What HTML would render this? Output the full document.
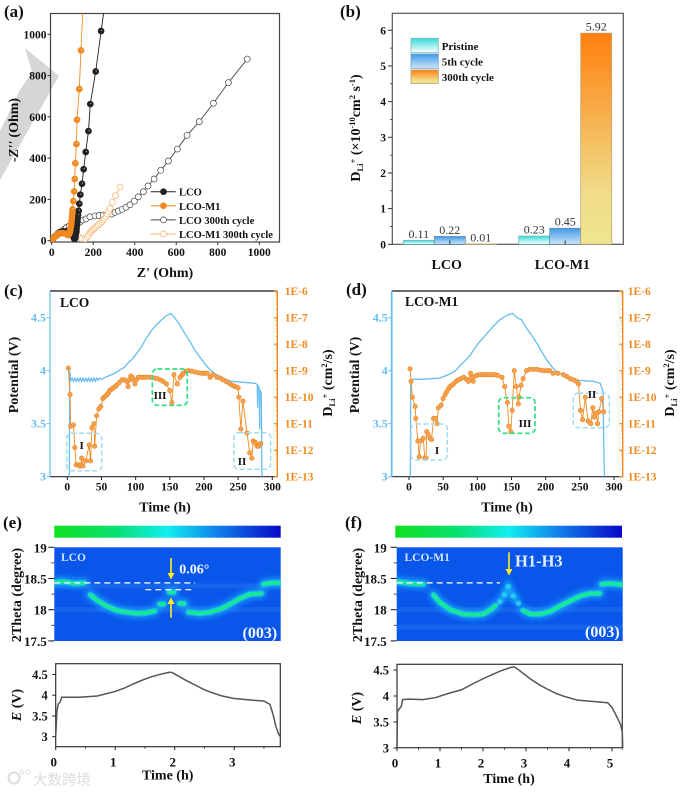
<!DOCTYPE html>
<html lang="en">
<head>
<meta charset="utf-8">
<title>Battery characterization figure</title>
<style>
html,body{margin:0;padding:0;background:#fff}
svg{display:block;filter:blur(.35px)}
text{font-family:"Liberation Serif","Noto Serif CJK SC",serif;font-weight:bold;fill:#111}
.t14{font-size:14px}.t13{font-size:13.5px}.t12{font-size:12px}.t17{font-size:17px}
</style>
</head>
<body>
<svg id="fig" xmlns="http://www.w3.org/2000/svg" width="680" height="792" viewBox="0 0 680 792">
<defs>
<clipPath id="clipA"><rect x="50.5" y="13.5" width="229" height="228.5"/></clipPath>
<clipPath id="clipE"><rect x="54.3" y="547.3" width="226.4" height="93.7"/></clipPath>
<clipPath id="clipF"><rect x="396.7" y="547.3" width="226" height="93.7"/></clipPath>
<linearGradient id="gPristine" x1="0" y1="0" x2="0" y2="1"><stop offset="0" stop-color="#35dcd8"/><stop offset="1" stop-color="#ffffff"/></linearGradient>
<linearGradient id="g5th" x1="0" y1="0" x2="0" y2="1"><stop offset="0" stop-color="#3c9ae8"/><stop offset="1" stop-color="#cfe6f8"/></linearGradient>
<linearGradient id="g300" x1="0" y1="0" x2="0" y2="1"><stop offset="0" stop-color="#ff7f0e"/><stop offset=".75" stop-color="#f0dc88"/><stop offset="1" stop-color="#efe68e"/></linearGradient>
<linearGradient id="gBar" x1="0" y1="0" x2="1" y2="0"><stop offset="0" stop-color="#10e020"/><stop offset=".27" stop-color="#08e070"/><stop offset=".5" stop-color="#10eef0"/><stop offset=".72" stop-color="#1080ea"/><stop offset="1" stop-color="#0808c8"/></linearGradient>
<filter id="glow" x="-20%" y="-60%" width="140%" height="220%"><feGaussianBlur stdDeviation="2.6"/></filter>
<filter id="glowS" x="-20%" y="-60%" width="140%" height="220%"><feGaussianBlur stdDeviation=".7"/></filter>
</defs>

<!-- panel letters -->
<text class="t17" x="4" y="17">(a)</text>
<text class="t17" x="340" y="17">(b)</text>
<text class="t17" x="4" y="296">(c)</text>
<text class="t17" x="346" y="295">(d)</text>
<text class="t17" x="3" y="528">(e)</text>
<text class="t17" x="345" y="528">(f)</text>

<!-- panel a static -->
<polygon points="25,48 59,76 0,180 0,131 20,90 32,72" fill="#d6d6d6"/>
<g id="a"></g>
<text class="t14" x="165" y="277" text-anchor="middle">Z' (Ohm)</text>
<text class="t14" transform="translate(18,130) rotate(-90)" text-anchor="middle">-<tspan font-style="italic">Z''</tspan> (Ohm)</text>

<!-- panel b static -->
<g id="b"></g>
<text class="t14" transform="translate(360,128) rotate(-90)" text-anchor="middle">D<tspan font-size="8.5" dy="3">Li</tspan><tspan font-size="8.5" dy="-7">+</tspan><tspan dy="4"> (×10</tspan><tspan font-size="8.5" dy="-5">-10</tspan><tspan dy="5">cm</tspan><tspan font-size="8.5" dy="-5">2</tspan><tspan dy="5"> s</tspan><tspan font-size="8.5" dy="-5">-1</tspan><tspan dy="5">)</tspan></text>
<text class="t14" x="446.7" y="269" text-anchor="middle">LCO</text>
<text class="t14" x="562.3" y="269" text-anchor="middle">LCO-M1</text>
<rect x="411" y="38.3" width="27.3" height="14.4" fill="url(#gPristine)" stroke="#7fb8b8" stroke-width=".8"/>
<rect x="411" y="54" width="27.3" height="14.3" fill="url(#g5th)" stroke="#7aa0c0" stroke-width=".8"/>
<rect x="411" y="70" width="27.3" height="13.4" fill="url(#g300)" stroke="#b0a070" stroke-width=".8"/>
<text font-size="11" x="441.7" y="50">Pristine</text>
<text font-size="11" x="441.7" y="65.5">5th cycle</text>
<text font-size="11" x="441.7" y="81">300th cycle</text>

<!-- panels c, d static -->
<g id="c"></g>
<g id="d"></g>
<text class="t13" x="60" y="307">LCO</text>
<text class="t13" x="405" y="306">LCO-M1</text>
<text class="t14" transform="translate(18,375) rotate(-90)" text-anchor="middle">Potential (V)</text>
<text class="t14" transform="translate(359,375) rotate(-90)" text-anchor="middle">Potential (V)</text>
<text class="t14" transform="translate(332,383) rotate(-90)" text-anchor="middle">D<tspan font-size="8.5" dy="3">Li</tspan><tspan font-size="8.5" dy="-7">+</tspan><tspan dy="4"> (cm</tspan><tspan font-size="8.5" dy="-5">2</tspan><tspan dy="5">/s)</tspan></text>
<text class="t14" transform="translate(674,383) rotate(-90)" text-anchor="middle">D<tspan font-size="8.5" dy="3">Li</tspan><tspan font-size="8.5" dy="-7">+</tspan><tspan dy="4"> (cm</tspan><tspan font-size="8.5" dy="-5">2</tspan><tspan dy="5">/s)</tspan></text>
<text class="t14" x="165" y="511.5" text-anchor="middle">Time (h)</text>
<text class="t14" x="507" y="511.5" text-anchor="middle">Time (h)</text>
<rect x="66.7" y="433.3" width="35" height="37.4" rx="5" fill="none" stroke="#a0dcf4" stroke-width="1.5" stroke-dasharray="5 2.5"/>
<rect x="234" y="432.7" width="36.7" height="36.6" rx="5" fill="none" stroke="#a0dcf4" stroke-width="1.5" stroke-dasharray="5 2.5"/>
<rect x="152.3" y="369" width="35" height="36.3" rx="5" fill="none" stroke="#30e080" stroke-width="1.7" stroke-dasharray="5 2.5"/>
<rect x="411" y="424" width="36.3" height="36" rx="5" fill="none" stroke="#a0dcf4" stroke-width="1.5" stroke-dasharray="5 2.5"/>
<rect x="498.7" y="397.7" width="36.3" height="35.6" rx="5" fill="none" stroke="#30e080" stroke-width="1.7" stroke-dasharray="5 2.5"/>
<rect x="573.3" y="393.3" width="36" height="34.4" rx="5" fill="none" stroke="#a0dcf4" stroke-width="1.5" stroke-dasharray="5 2.5"/>
<text font-size="11" x="81.7" y="449" text-anchor="middle">I</text>
<text font-size="11" x="242" y="465" text-anchor="middle">II</text>
<text font-size="11" x="160" y="399" text-anchor="middle">III</text>
<text font-size="11" x="437" y="454" text-anchor="middle">I</text>
<text font-size="11" x="525" y="427" text-anchor="middle">III</text>
<text font-size="11" x="592" y="398" text-anchor="middle">II</text>

<!-- panels e, f -->
<rect x="54.3" y="525.7" width="226.4" height="12" fill="url(#gBar)"/>
<rect x="395.3" y="525.7" width="226.7" height="12" fill="url(#gBar)"/>
<g id="e"></g>
<g id="f"></g>
<text font-size="11.5" x="61" y="561" style="fill:#cfe6ff">LCO</text>
<text font-size="11.5" x="404.5" y="561" style="fill:#cfe6ff">LCO-M1</text>
<text font-size="16" x="242.5" y="638" style="fill:#f4f8ff">(003)</text>
<text font-size="16" x="585" y="637" style="fill:#f4f8ff">(003)</text>
<text font-size="14" x="179.3" y="573.5" style="fill:#f0f6ff">0.06°</text>
<text font-size="16.5" x="515" y="566.5" style="fill:#e4f0ff">H1-H3</text>
<g fill="#ffee20" stroke="#ffee20">
<line x1="171" y1="558" x2="171" y2="574" stroke-width="1.6"/>
<polygon points="167.5,573 174.5,573 171,579.5" stroke="none"/>
<line x1="171" y1="617.7" x2="171" y2="603" stroke-width="1.6"/>
<polygon points="167.5,604 174.5,604 171,597.5" stroke="none"/>
<line x1="509" y1="552.3" x2="509" y2="570" stroke-width="1.6"/>
<polygon points="505.5,569 512.5,569 509,575.5" stroke="none"/>
</g>
<text class="t14" transform="translate(21,595) rotate(-90)" text-anchor="middle">2Theta (degree)</text>
<text class="t14" transform="translate(362,595) rotate(-90)" text-anchor="middle">2Theta (degree)</text>
<text class="t14" transform="translate(21,705) rotate(-90)" text-anchor="middle"><tspan font-style="italic">E</tspan> (V)</text>
<text class="t14" transform="translate(361,708) rotate(-90)" text-anchor="middle"><tspan font-style="italic">E</tspan> (V)</text>
<text class="t14" x="167.7" y="779.5" text-anchor="middle">Time (h)</text>
<text class="t14" x="509" y="783" text-anchor="middle">Time (h)</text>

<!-- watermark -->
<g>
<circle cx="14" cy="778" r="5.5" fill="none" stroke="#dedede" stroke-width="2"/>
<circle cx="22" cy="772" r="2" fill="none" stroke="#dedede"/>
<circle cx="28" cy="772" r="2" fill="none" stroke="#dedede"/>
<text x="33" y="785" font-size="14.5" style="fill:#dcdcdc;font-family:'Liberation Sans','Noto Sans CJK SC',sans-serif;font-weight:normal">大数跨境</text>
</g>

<script>
// ---- panel a: Nyquist data [Z', -Z''] ----
const nyquistLCO = [[0,3],[10,15],[20,25],[30,35],[40,42],[55,45],[70,45],[85,40],[100,25],[108,10],[112,10],[114,19],[116,30],[119,44],[120,60],[122,76],[124,92],[125,108],[127,125],[130,145],[133,179],[138,223],[146,276],[154,346],[164,430],[177,531],[186,662],[212,820],[238,1016],[258,1160]];
const nyquistM1 = [[0,3],[8,11],[16,20],[24,28],[32,34],[40,37],[52,37],[64,35],[74,30],[80,27],[85,34],[88,44],[90,55],[92,68],[94,80],[95,92],[97,106],[98,120],[100,136],[101,152],[104,192],[108,239],[111,299],[114,375],[119,468],[122,586],[133,735],[141,922],[152,1160]];
const nyquistLCO300 = [[5,6],[24,24],[36,34],[48,44],[60,55],[72,65],[84,71],[96,76],[108,80],[120,84],[136,90],[150,100],[165,106],[184,116],[209,120],[228,122],[248,124],[265,126],[289,129],[305,137],[321,144],[339,152],[358,162],[377,174],[398,192],[417,213],[442,237],[464,265],[493,299],[525,341],[562,386],[605,444],[652,510],[711,577],[779,666],[851,766],[942,880]];
const nyquistM1300 = [[5,10],[24,23],[56,36],[88,44],[104,36],[118,28],[130,20],[145,10],[161,8],[172,18],[178,28],[185,39],[191,46],[197,52],[203,58],[209,63],[217,70],[225,76],[233,84],[241,92],[248,100],[255,108],[262,118],[268,129],[274,142],[281,157],[292,186],[308,218],[329,260]];
const nyquistXTicks = [0,200,400,600,800,1000];
const nyquistYTicks = [0,200,400,600,800,1000];
const nyquistLegend = ['LCO','LCO-M1','LCO 300th cycle','LCO-M1 300th cycle'];

// ---- panel b: diffusion bars ----
const diffusionGroups = ['LCO','LCO-M1'];
const diffusionSeries = ['Pristine','5th cycle','300th cycle'];
const diffusionLCO = [0.11,0.22,0.01];
const diffusionM1 = [0.23,0.45,5.92];
const diffusionTicks = [0,1,2,3,4,5,6];

// ---- panels c, d: [time h, potential V] and [time h, log10 D] ----
const potentialC = [[3,3],[3.5,4],[5,3.9],[7,3.93],[9,3.9],[11,3.93],[13,3.9],[15,3.93],[17,3.9],[19,3.93],[21,3.9],[23,3.93],[25,3.9],[27,3.93],[29,3.9],[31,3.93],[33,3.9],[35,3.93],[37,3.9],[39,3.93],[41,3.9],[43,3.93],[45,3.91],[47,3.93],[50,3.92],[60,3.95],[68,3.97],[75,4.0],[83,4.03],[90,4.08],[95,4.11],[100,4.15],[108,4.22],[115,4.3],[122,4.37],[130,4.43],[138,4.48],[145,4.52],[152,4.54],[158,4.49],[165,4.43],[172,4.35],[180,4.27],[187,4.19],[195,4.12],[202,4.06],[210,4.0],[217,3.97],[225,3.94],[232,3.92],[240,3.9],[260,3.89],[275,3.88],[278,3.87],[278.5,3.65],[279,3.86],[281,3.84],[281.5,3.45],[282,3.82],[284,3.78],[284.5,3.2],[285,3.0]];
const potentialD = [[2,3],[2.5,3.9],[4,3.9],[6,3.92],[20,3.92],[45,3.93],[60,3.97],[68,4.0],[75,4.05],[83,4.1],[90,4.15],[95,4.2],[103,4.27],[110,4.32],[118,4.38],[125,4.43],[133,4.48],[140,4.51],[146,4.53],[152,4.54],[158,4.5],[165,4.48],[172,4.4],[180,4.33],[188,4.25],[195,4.17],[202,4.1],[210,4.03],[216,3.99],[222,3.97],[232,3.94],[245,3.91],[270,3.9],[280,3.88],[284,3.8],[285,3.3],[286,3.0]];
const diffC = [[1.5,-8.9],[4,-9.9],[5,-11.1],[9,-11.05],[11,-11.9],[13,-12.55],[16,-12.55],[18,-12.6],[20,-12.55],[21,-12.3],[23,-12.6],[27,-12.4],[32,-11.8],[34,-12.4],[36,-11.15],[39,-11],[40,-11.85],[43,-10.7],[46,-10.45],[49,-10.35],[52,-10.05],[54,-10],[56,-9.95],[58,-9.9],[60,-9.85],[62,-9.75],[65,-9.7],[67,-9.65],[70,-9.6],[72,-9.55],[76,-9.45],[80,-9.35],[84,-9.35],[87,-9.4],[89,-9.6],[91,-9.35],[93,-9.2],[95,-9.25],[97,-9.35],[99,-9.5],[101,-9.35],[104,-9.25],[108,-9.25],[111,-9.25],[114,-9.25],[118,-9.25],[123,-9.25],[128,-9.28],[132,-9.3],[136,-9.35],[140,-9.4],[145,-9.5],[150,-9.75],[153,-10.2],[156,-9.15],[161,-9.5],[165,-9.25],[168,-9.15],[170,-9.1],[174,-9.03],[177,-9],[182,-9.02],[187,-9.05],[192,-9.08],[197,-9.1],[201,-9.1],[205,-9.1],[209,-9.25],[213,-9.15],[219,-9.25],[224,-9.28],[228,-9.35],[233,-9.42],[238,-9.5],[242,-9.55],[245,-9.6],[248,-9.62],[250,-9.65],[251,-10],[254,-11.2],[257,-10.15],[263,-11.35],[267,-12.1],[270,-12.3],[272,-11.65],[275,-11.7],[276,-11.75],[278,-11.85],[280,-11.85],[283,-11.75]];
const diffD = [[1.5,-8.93],[3,-9.4],[5,-10],[9,-10.35],[10,-10.8],[13,-11.65],[15,-12.25],[17,-11.65],[21,-11.55],[23,-12.3],[25,-12.3],[26,-11.3],[28,-11.4],[31,-11.55],[33,-11.6],[36,-10.8],[39,-10.8],[41,-11],[43,-10.4],[47,-10.3],[50,-10.05],[53,-9.9],[55,-9.8],[58,-9.68],[60,-9.6],[63,-9.55],[65,-9.5],[69,-9.4],[72,-9.35],[76,-9.3],[80,-9.25],[84,-9.32],[87,-9.4],[90,-9.1],[92,-9.25],[94,-9.4],[97,-9.2],[100,-9.17],[104,-9.15],[108,-9.15],[111,-9.15],[114,-9.15],[118,-9.15],[122,-9.15],[126,-9.15],[130,-9.18],[136,-9.25],[140,-9.6],[144,-10.2],[146,-11.1],[149,-11.3],[151,-10.5],[154,-9],[157,-9.6],[160,-10.25],[161,-10],[164,-9.55],[167,-9.3],[172,-9],[177,-8.95],[182,-8.95],[187,-8.95],[192,-8.98],[197,-9],[202,-9],[206,-9],[211,-9.1],[218,-9.1],[226,-9.15],[231,-9.22],[236,-9.3],[241,-9.35],[245,-9.4],[248,-9.5],[251,-10.5],[254,-10.85],[258,-10],[262,-10.9],[266,-11],[269,-10.4],[271,-10.75],[274,-10.6],[276,-11],[278,-10.55],[282,-10.05],[285,-10.55]];
const timeTicksCD = [0,50,100,150,200,250,300];
const potentialTicks = [3,3.5,4,4.5];
const diffExponents = [-13,-12,-11,-10,-9,-8,-7,-6];

// ---- panels e, f: ridge positions [time h, 2theta deg] ----
const ridgeE = [
 [[0,18.44],[0.15,18.45],[0.35,18.42],[0.5,18.43]],
 [[0.6,18.24],[0.71,18.155],[0.87,18.06],[1.04,17.99],[1.21,17.96],[1.375,17.94],[1.54,17.95],[1.68,17.98]],
 [[1.76,18.09],[1.83,18.09]],
 [[1.92,18.28],[2.0,18.28]],
 [[2.09,18.10],[2.17,18.10]],
 [[2.24,17.96],[2.43,17.94],[2.6,17.96],[2.77,18.01],[2.93,18.085],[3.1,18.18],[3.27,18.25],[3.46,18.26]],
 [[3.49,18.41],[3.63,18.43],[3.78,18.43]]];
const ridgeF = [
 [[0,18.45],[0.31,18.42],[0.62,18.41]],
 [[0.85,18.24],[1.0,18.12],[1.24,18.0],[1.55,17.93],[1.78,17.92],[2.01,17.93],[2.2,18.01],[2.3,18.07]],
 [[2.93,17.99],[3.1,17.93],[3.33,17.93],[3.56,17.97],[3.79,18.06],[4.02,18.14],[4.26,18.22],[4.49,18.26],[4.72,18.26]],
 [[4.76,18.41],[4.95,18.42],[5.25,18.40]]];
const beadsF = [[2.4,18.13],[2.5,18.24],[2.59,18.37],[2.71,18.22],[2.83,18.1]];
const beadsE = [];
const voltageE = [[0,3.0],[0.02,3.6],[0.04,3.78],[0.08,3.85],[0.1,3.95],[0.4,3.95],[0.7,3.98],[1.0,4.09],[1.15,4.17],[1.3,4.27],[1.45,4.36],[1.6,4.44],[1.75,4.5],[1.9,4.55],[1.95,4.55],[2.05,4.47],[2.2,4.35],[2.35,4.24],[2.5,4.13],[2.65,4.05],[2.8,3.98],[3.0,3.92],[3.3,3.88],[3.5,3.86],[3.6,3.78],[3.65,3.55],[3.7,3.25],[3.75,3.05],[3.78,3.0]];
const voltageF = [[0,3],[0.01,3.7],[0.05,3.75],[0.1,3.8],[0.13,3.93],[0.3,3.94],[0.6,3.93],[0.9,3.97],[1.2,4.05],[1.5,4.12],[1.8,4.25],[2.1,4.37],[2.4,4.48],[2.65,4.55],[2.72,4.56],[2.8,4.52],[3.1,4.33],[3.3,4.22],[3.5,4.13],[3.7,4.05],[3.9,3.99],[4.2,3.92],[4.5,3.9],[4.9,3.87],[5.0,3.78],[5.1,3.62],[5.2,3.45],[5.24,3.3],[5.25,3.0]];
const thetaTicks = [17.5,18,18.5,19];
const timeTicksE = [0,1,2,3];
const timeTicksF = [0,1,2,3,4,5];
const voltTicksE = [3,3.5,4,4.5];
const voltTicksF = [3,3.5,4,4.5];

const NS = 'http://www.w3.org/2000/svg';
function mk(parent, tag, name, attrs, content) {
  const e = document.createElementNS(NS, tag);
  
  
  for (const k in attrs) e.setAttribute(k, attrs[k]);
  if (content !== undefined) e.textContent = content;
  parent.appendChild(e);
  return e;
}
function line(p, name, x1, y1, x2, y2, color, w) {
  return mk(p, 'line', name, {x1, y1, x2, y2, stroke: color, 'stroke-width': w});
}
function label(p, name, x, y, txt, anchor, color, size, weight) {
  const e = mk(p, 'text', name, {x, y, 'text-anchor': anchor, 'font-size': size}, txt);
  e.style.fill = color;
  if (weight) e.style.fontWeight = weight;
  return e;
}
function path(p, name, pts, fx, fy, attrs) {
  const d = pts.map(q => fx(q[0]).toFixed(2) + ',' + fy(q[1]).toFixed(2)).join(' ');
  return mk(p, 'polyline', name, Object.assign({points: d, fill: 'none'}, attrs));
}

// ===== Panel a =====
(function () {
  const g = document.getElementById('a');
  const x = v => 51.7 + v * 0.2076;
  const y = v => 240.7 - v * 0.2064;
  mk(g, 'rect', 'nyquist-frame', {x: 50.5, y: 13.5, width: 229, height: 228.5, fill: 'none', stroke: '#444', 'stroke-width': 1.2});
  nyquistXTicks.forEach(t => {
    line(g, 'nyquist-x-tick', x(t), 242, x(t), 245, '#333', 1);
    label(g, 'nyquist-x-tick-label', x(t), 256, t, 'middle', '#111', 11.5);
  });
  nyquistYTicks.forEach(t => {
    line(g, 'nyquist-y-tick', 50.5, y(t), 47.5, y(t), '#333', 1);
    label(g, 'nyquist-y-tick-label', 46.5, y(t) + 4, t, 'end', '#111', 11.5);
  });
  const clip = mk(g, 'g', 'nyquist-plot-area', {'clip-path': 'url(#clipA)'});
  const series = [
    [nyquistLCO300, '#444', '#fff', 'lco-300'],
    [nyquistM1300, '#f5b06a', '#fff', 'lco-m1-300'],
    [nyquistLCO, '#222', '#222', 'lco'],
    [nyquistM1, '#f08a20', '#f08a20', 'lco-m1']];
  series.forEach(s => {
    path(clip, 'nyquist-line-' + s[3], s[0], x, y, {stroke: s[1], 'stroke-width': 0.9});
    s[0].forEach(q => {
      mk(clip, 'circle', 'nyquist-point-' + s[3], {cx: x(q[0]), cy: y(q[1]), r: 3, fill: s[2], stroke: s[1], 'stroke-width': 0.7});
      if (s[2] !== '#fff') mk(clip, 'circle', 'nyquist-point-glint-' + s[3], {cx: x(q[0]) + .6, cy: y(q[1]) - .6, r: .7, fill: s[3] === 'lco' ? '#999' : '#ffd0a0'});
    });
  });
  nyquistLegend.forEach((t, i) => {
    const ly = 191.7 + i * 14.1, s = [series[2], series[3], series[0], series[1]][i];
    line(g, 'legend-line', 150.7, ly, 175.7, ly, s[1], 1);
    mk(g, 'circle', 'legend-marker', {cx: 163.5, cy: ly, r: 3, fill: s[2], stroke: s[1], 'stroke-width': .7});
    label(g, 'legend-label', 179, ly + 4, t, 'start', '#111', 10.5);
  });
})();

// ===== Panel b =====
(function () {
  const g = document.getElementById('b');
  const y = v => 244.3 - v * 35.67;
  const barW = 31;
  const fills = ['url(#gPristine)', 'url(#g5th)', 'url(#g300)'];
  const strokes = ['#6fb8b8', '#6a90b0', '#b8a878'];
  mk(g, 'rect', 'diffusion-frame', {x: 392.3, y: 13.3, width: 231, height: 231, fill: 'none', stroke: '#555', 'stroke-width': 1.2});
  diffusionTicks.forEach(t => {
    line(g, 'diffusion-y-tick', 392.3, y(t), 388, y(t), '#333', 1);
    label(g, 'diffusion-y-tick-label', 386, y(t) + 4, t, 'end', '#111', 11.5);
    if (t < 6) line(g, 'diffusion-y-minor-tick', 392.3, y(t + .5), 390, y(t + .5), '#333', .8);
  });
  [[403.3, diffusionLCO], [518.7, diffusionM1]].forEach((grp, gi) => {
    grp[1].forEach((v, i) => {
      const bx = grp[0] + i * barW;
      mk(g, 'rect', 'bar-' + diffusionGroups[gi].toLowerCase() + '-' + (i + 1), {x: bx, y: y(v), width: barW, height: Math.max(244.3 - y(v), .6), fill: fills[i], stroke: strokes[i], 'stroke-width': .8});
      label(g, 'bar-value-label', bx + barW / 2, y(v) - 2.5, v.toFixed(2), 'middle', '#333', 12, 'normal');
    });
    line(g, 'diffusion-x-tick', grp[0] + 1.5 * barW, 244.3, grp[0] + 1.5 * barW, 240.5, '#333', 1);
  });
})();

// ===== Panels c, d =====
function panelCD(id, left, right, x0, potential, diff, labelGap) {
  const g = document.getElementById(id);
  const blue = '#66bdee', orange = '#f08a20';
  const x = v => x0 + v * 0.6833;
  const yV = v => 476.7 - (v - 3) * 106;
  const yD = v => 476.7 - (v + 13) * 26.5;
  line(g, 'top-axis', left, 291, right, 291, '#111', 1.2);
  line(g, 'bottom-axis', left, 476.7, right, 476.7, '#223', 1.2);
  line(g, 'left-axis', left, 291, left, 476.7, blue, id === 'd' ? 1.8 : 1.2);
  line(g, 'right-axis', right, 291, right, 476.7, orange, 1.4);
  timeTicksCD.forEach(t => {
    line(g, 'time-tick', x(t), 476.7, x(t), 480, '#222', 1);
    label(g, 'time-tick-label', x(t), 490.5, t, 'middle', '#111', 11.5);
  });
  potentialTicks.forEach(t => {
    line(g, 'potential-tick', left, yV(t), left - 3.5, yV(t), blue, 1);
    label(g, 'potential-tick-label', left - 4, yV(t) + 4, t, 'end', blue, 12);
  });
  diffExponents.forEach(e => {
    line(g, 'diffusion-tick', right, yD(e), right - 3.5, yD(e), orange, 1.2);
    label(g, 'diffusion-tick-label', right + labelGap, yD(e) + 4, '1E' + e, 'start', orange, 11.5);
    if (e < -6) for (const dv of [.3, .48, .6, .7, .78, .85, .9, .95]) line(g, 'diffusion-minor-tick', right, yD(e + dv), right - 1.8, yD(e + dv), orange, .5);
  });
  path(g, 'potential-curve', potential, x, yV, {stroke: blue, 'stroke-width': 1.3});
  path(g, 'diffusion-line', diff, x, yD, {stroke: orange, 'stroke-width': 0.9});
  diff.forEach(q => {
    mk(g, 'circle', 'diffusion-point', {cx: x(q[0]), cy: yD(q[1]), r: 2.2, fill: '#f2a258', stroke: orange, 'stroke-width': .7});
  });
}
panelCD('c', 50, 277.3, 67.3, potentialC, diffC, 7.5);
panelCD('d', 391.7, 622.7, 409, potentialD, diffD, 5);

// ===== Panels e, f =====
function panelEF(id, clipId, heatL, heatR, tMax, ridges, beads, dashes, stripes,
                 boxL, boxR, boxT, boxB, v3y, vPerPx, volt, voltTicks, timeTicks, tScale, tickBase, tickLabelRight) {
  const g = document.getElementById(id);
  const x = t => heatL + (t / tMax) * (heatR - heatL);
  const y = d => 547.3 + (19 - d) * 62.4;
  mk(g, 'rect', 'heatmap-background', {x: heatL, y: 547.3, width: heatR - heatL, height: 93.7, fill: '#0a56ea'});
  const clip = mk(g, 'g', 'heatmap-area', {'clip-path': 'url(#' + clipId + ')'});
  stripes.forEach(d => {
    mk(clip, 'rect', 'heatmap-stripe', {x: heatL, y: y(d) - 2.5, width: heatR - heatL, height: 5, fill: '#2a7af0', opacity: .4});
  });
  const glow = mk(clip, 'g', 'ridge-glow', {filter: 'url(#glow)'});
  const core = mk(clip, 'g', 'ridge-core', {filter: 'url(#glowS)'});
  ridges.forEach(r => {
    const cap = {'stroke-linecap': 'round', 'stroke-linejoin': 'round'};
    path(glow, 'ridge-halo', r, x, y, Object.assign({stroke: '#16a0fa', 'stroke-width': 10, opacity: .85}, cap));
    path(core, 'ridge-edge', r, x, y, Object.assign({stroke: '#1ce0dc', 'stroke-width': 5}, cap));
    path(core, 'ridge-center', r, x, y, Object.assign({stroke: '#16ec78', 'stroke-width': 2.8}, cap));
  });
  if (beads.length) {
    path(glow, 'bead-halo', beads, x, y, {stroke: '#16a0fa', 'stroke-width': 8});
  }
  beads.forEach(b => {
    mk(core, 'circle', 'ridge-bead', {cx: x(b[0]), cy: y(b[1]), r: 2.7, fill: '#22d2ee'});
  });
  dashes.forEach(ds => {
    mk(g, 'line', 'reference-dash', {x1: x(ds[0]), y1: y(ds[2]), x2: x(ds[1]), y2: y(ds[2]), stroke: '#dceaff', 'stroke-width': 1.4, 'stroke-dasharray': '6 4'});
  });
  thetaTicks.forEach(t => {
    line(g, 'theta-tick', heatL, y(t), heatL - 6, y(t), '#222', 1.1);
    label(g, 'theta-tick-label', tickLabelRight, y(t) + 5, t, 'end', '#111', 13);
    if (t < 19) line(g, 'theta-minor-tick', heatL, y(t + .25), heatL - 3, y(t + .25), '#222', .8);
  });
  // voltage panel
  const xT = t => boxL + t * tScale;
  const yE = v => v3y - (v - 3) * vPerPx;
  mk(g, 'rect', 'voltage-frame', {x: boxL, y: boxT, width: boxR - boxL, height: boxB - boxT, fill: 'none', stroke: '#333', 'stroke-width': 1.2});
  path(g, 'voltage-curve', volt, xT, yE, {stroke: '#555', 'stroke-width': 1.5});
  timeTicks.forEach(t => {
    line(g, 'voltage-time-tick', xT(t), boxB, xT(t), boxB + 3.5, '#222', 1);
    label(g, 'voltage-time-tick-label', xT(t) - 2, tickBase, t, 'middle', '#111', 13);
    line(g, 'voltage-time-minor-tick', Math.min(xT(t + .5), boxR), boxB, Math.min(xT(t + .5), boxR), boxB + 2, '#222', .8);
  });
  voltTicks.forEach(t => {
    line(g, 'voltage-tick', boxL, yE(t), boxL - 3.5, yE(t), '#222', 1);
    label(g, 'voltage-tick-label', boxL - 8, yE(t) + 4.5, t, 'end', '#111', 12.5);
  });
}
panelEF('e', 'clipE', 54.3, 280.7, 3.78, ridgeE, beadsE, [[0, 2.35, 18.43], [1.52, 2.35, 18.32]], [18, 18.38],
        55.7, 280.3, 663.7, 746.7, 736.7, 41.5, voltageE, voltTicksE, timeTicksE, 59.5, 766.7, 46.7);
panelEF('f', 'clipF', 396.7, 622.7, 5.25, ridgeF, beadsF, [[0, 2.4, 18.43]], [17.72, 18],
        397, 622.3, 664.3, 747.7, 748, 52, voltageF, voltTicksF, timeTicksF, 43, 767.3, 386.7);
</script>
</svg>
</body>
</html>
